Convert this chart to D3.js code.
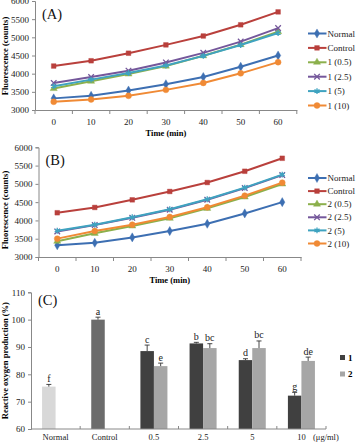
<!DOCTYPE html>
<html>
<head>
<meta charset="utf-8">
<script src="https://cdn.jsdelivr.net/npm/d3@7"></script>
<style>
  body { margin: 0; background: #fff; }
  svg { display: block; font-family: "Liberation Serif", "Times New Roman", serif; }
</style>
</head>
<body>
<div id="chart"></div>
<script>
// time points (min)
const times = ["0", "10", "20", "30", "40", "50", "60"];
const yTicksFluo = [3000, 3500, 4000, 4500, 5000, 5500, 6000];

// panel A series (compound 1)
const namesA = ["Normal", "Control", "1 (0.5)", "1 (2.5)", "1 (5)", "1 (10)"];
const normal = [3320, 3390, 3536, 3709, 3908, 4192, 4500];
const control = [4210, 4355, 4563, 4792, 5037, 5345, 5700];
const c1_05 = [3591, 3791, 3990, 4208, 4492, 4800, 5155];
const c1_25 = [3745, 3908, 4082, 4309, 4573, 4882, 5255];
const c1_5 = [3655, 3836, 4018, 4227, 4490, 4790, 5118];
const c1_10 = [3226, 3291, 3390, 3554, 3745, 4009, 4317];

// panel B series (compound 2)
const namesB = ["Normal", "Control", "2 (0.5)", "2 (2.5)", "2 (5)", "2 (10)"];
const c2_05 = [3429, 3647, 3848, 4058, 4331, 4641, 4997];
const c2_25 = [3700, 3872, 4072, 4292, 4566, 4884, 5240];
const c2_5 = [3720, 3884, 4085, 4304, 4578, 4897, 5252];
const c2_10 = [3502, 3711, 3884, 4094, 4359, 4678, 5033];

// panel C bars
const groups = ["Normal", "Control", "0.5", "2.5", "5", "10"];
const ros1 = [75.5, 100, 88.5, 91.3, 85.2, 72.2];
const err1 = [0.8, 0.9, 2.2, 0.4, 0.5, 1.2];
const letters1 = ["f", "a", "c", "b", "d", "g"];
const ros2 = [null, null, 83.0, 89.6, 89.6, 84.9];
const err2 = [null, null, 1.1, 1.6, 2.6, 1.4];
const letters2 = ["", "", "e", "bc", "bc", "de"];
const yTicksRos = [60, 70, 80, 90, 100, 110];

const colors = ["#3d6fb2", "#b9403c", "#8cb04c", "#74579b", "#3fa3c0", "#f08a35"];
const symbols = [d3.symbolDiamond, d3.symbolSquare, d3.symbolTriangle, d3.symbolTimes, d3.symbolAsterisk, d3.symbolCircle];
const symSize = [24, 22, 22, 22, 24, 28];
const axisColor = "#888";

const svg = d3.select("#chart").append("svg")
  .attr("width", 356).attr("height", 444);
svg.append("rect").attr("width", 356).attr("height", 444).attr("fill", "#fff");

function marker(g, i, cx, cy, col) {
  const stroke = (symbols[i] === d3.symbolTimes || symbols[i] === d3.symbolAsterisk);
  g.append("path")
    .attr("transform", `translate(${cx},${cy})`)
    .attr("d", d3.symbol(symbols[i], symSize[i])())
    .attr("fill", stroke ? "none" : col)
    .attr("stroke", col)
    .attr("stroke-width", stroke ? 1.3 : 0.4);
}

function styleAxis(a) {
  a.select(".domain").attr("stroke", axisColor);
  a.selectAll(".tick line").attr("stroke", axisColor);
  a.selectAll("text").attr("font-size", 9).attr("font-family", "Liberation Serif").attr("fill", "#222");
}

function linePanel(opt) {
  const { top, bottom, left, right, label, names, series, legendY, legendStep, title } = opt;
  const x = d3.scaleBand().domain(times).range([left, right]);
  const y = d3.scaleLinear().domain([3000, 6000]).range([bottom, top]);
  const g = svg.append("g");

  // y axis
  g.append("g").attr("transform", `translate(${left},0)`)
    .call(d3.axisLeft(y).tickValues(yTicksFluo).tickFormat(d3.format("d")).tickSize(3).tickPadding(3))
    .call(styleAxis);

  // x axis, ticks between categories
  g.append("g").attr("transform", `translate(0,${bottom})`)
    .call(d3.axisBottom(x).tickSize(0).tickPadding(9).tickSizeOuter(0))
    .call(styleAxis);
  const bounds = times.map(t => x(t)).concat([x.range()[1]]);
  g.selectAll(".xt").data(bounds).join("line")
    .attr("x1", d => d).attr("x2", d => d)
    .attr("y1", bottom).attr("y2", bottom + 4)
    .attr("stroke", axisColor);

  const cx = t => x(t) + x.bandwidth() / 2;
  const line = d3.line().x((d, i) => cx(times[i])).y(d => y(d));

  series.forEach((s, k) => {
    g.append("path").datum(s)
      .attr("d", line).attr("fill", "none")
      .attr("stroke", colors[k]).attr("stroke-width", 2);
    s.forEach((v, i) => marker(g, k, cx(times[i]), y(v), colors[k]));
  });

  // legend
  names.forEach((n, k) => {
    const ly = legendY + k * legendStep;
    g.append("line").attr("x1", 308).attr("x2", 326.5).attr("y1", ly).attr("y2", ly)
      .attr("stroke", colors[k]).attr("stroke-width", 2);
    marker(g, k, 317, ly, colors[k]);
    g.append("text").attr("x", 327.5).attr("y", ly).attr("dy", "0.35em")
      .attr("font-size", 9).attr("fill", "#222").text(n);
  });

  g.append("text").attr("x", left + 7).attr("y", top + 18)
    .attr("font-size", 14.5).attr("fill", "#111").text(title);
  g.append("text").attr("x", (left + right) / 2).attr("y", bottom + 26)
    .attr("text-anchor", "middle").attr("font-size", 8.5).attr("font-weight", "bold")
    .text("Time (min)");
  g.append("text")
    .attr("transform", `translate(8,${label}) rotate(-90)`)
    .attr("text-anchor", "middle").attr("font-size", 8.5).attr("font-weight", "bold")
    .text("Fluorescence (counts)");
}

linePanel({
  top: 1, bottom: 110, left: 35, right: 296.8, label: 56,
  names: namesA, series: [normal, control, c1_05, c1_25, c1_5, c1_10],
  legendY: 33.5, legendStep: 14.4, title: "(A)"
});
linePanel({
  top: 147.3, bottom: 257, left: 38.5, right: 301, label: 210,
  names: namesB, series: [normal, control, c2_05, c2_25, c2_5, c2_10],
  legendY: 178, legendStep: 13.1, title: "(B)"
});

// panel C
(function () {
  const left = 31, right = 326, top = 292.3, bottom = 429;
  const x = d3.scaleBand().domain(groups).range([left, right]);
  const xs = d3.scaleBand().domain(["1", "2"]).range([0, x.bandwidth()]).paddingInner(0).paddingOuter(0.82);
  const y = d3.scaleLinear().domain([60, 110]).range([bottom, top]);
  const g = svg.append("g");

  g.append("g").attr("transform", `translate(${left},0)`)
    .call(d3.axisLeft(y).tickValues(yTicksRos).tickSize(3).tickPadding(3))
    .call(styleAxis);

  const col1 = (i) => i === 0 ? "#d8d8d8" : i === 1 ? "#6c6c6c" : "#404040";
  const col2 = "#a6a6a6";

  const bars = [];
  groups.forEach((gname, i) => {
    bars.push({ g: gname, s: "1", v: ros1[i], e: err1[i], l: letters1[i], c: col1(i) });
    if (ros2[i] != null) bars.push({ g: gname, s: "2", v: ros2[i], e: err2[i], l: letters2[i], c: col2 });
  });

  g.selectAll(".bar").data(bars).join("rect")
    .attr("x", d => x(d.g) + xs(d.s))
    .attr("width", xs.bandwidth())
    .attr("y", d => y(d.v))
    .attr("height", d => bottom - y(d.v))
    .attr("fill", d => d.c);

  const bc = d => x(d.g) + xs(d.s) + xs.bandwidth() / 2;
  g.selectAll(".eb").data(bars).join("line")
    .attr("x1", bc).attr("x2", bc)
    .attr("y1", d => y(d.v)).attr("y2", d => y(d.v + d.e))
    .attr("stroke", "#333").attr("stroke-width", 0.9);
  g.selectAll(".ec").data(bars).join("line")
    .attr("x1", d => bc(d) - 2.5).attr("x2", d => bc(d) + 2.5)
    .attr("y1", d => y(d.v + d.e)).attr("y2", d => y(d.v + d.e))
    .attr("stroke", "#333").attr("stroke-width", 0.9);
  g.selectAll(".lt").data(bars).join("text")
    .attr("x", bc).attr("y", d => y(d.v + d.e) - 2.5)
    .attr("text-anchor", "middle").attr("font-size", 10).attr("fill", "#222")
    .text(d => d.l);

  // x axis with inward ticks between groups
  g.append("line").attr("x1", left).attr("x2", right).attr("y1", bottom).attr("y2", bottom)
    .attr("stroke", axisColor);
  const bounds = groups.map(d => x(d)).slice(1).concat([right]);
  g.selectAll(".xt").data(bounds).join("line")
    .attr("x1", d => d).attr("x2", d => d).attr("y1", bottom).attr("y2", bottom - 3)
    .attr("stroke", axisColor);
  g.selectAll(".xl").data(groups).join("text")
    .attr("x", d => x(d) + x.bandwidth() / 2).attr("y", bottom + 11)
    .attr("text-anchor", "middle").attr("font-size", 8.5).attr("fill", "#222")
    .text(d => d);
  g.append("text").attr("x", 313).attr("y", bottom + 11)
    .attr("font-size", 8.5).attr("fill", "#222").text("(μg/ml)");

  // legend
  [["1", "#404040"], ["2", col2]].forEach(([n, c], k) => {
    const ly = 357.5 + k * 16.5;
    g.append("rect").attr("x", 340).attr("y", ly - 2.5).attr("width", 5).attr("height", 5).attr("fill", c);
    g.append("text").attr("x", 348).attr("y", ly).attr("dy", "0.35em")
      .attr("font-size", 9).attr("font-weight", "bold").text(n);
  });

  g.append("text").attr("x", left + 7).attr("y", top + 13)
    .attr("font-size", 14.5).attr("fill", "#111").text("(C)");
  g.append("text")
    .attr("transform", `translate(8,${(top + bottom) / 2}) rotate(-90)`)
    .attr("text-anchor", "middle").attr("font-size", 8.5).attr("font-weight", "bold")
    .text("Reactive oxygen production (%)");
})();
</script>
</body>
</html>
